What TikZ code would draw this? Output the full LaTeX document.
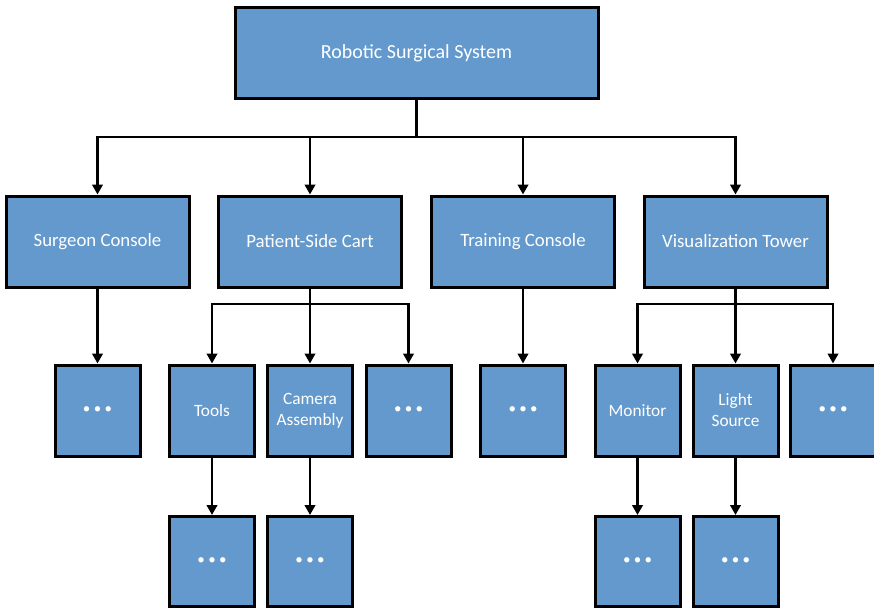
\documentclass[tikz,border=0pt]{standalone}
\usepackage{fontspec}
\setmainfont{Carlito}
\usetikzlibrary{arrows.meta}
\definecolor{boxblue}{RGB}{99,153,204}
\newcommand{\moredots}{•\hspace{0.22em}•\hspace{0.22em}•}
\begin{document}
\begin{tikzpicture}[x=1pt,y=-1pt,
  box/.style={draw=black,line width=3pt,fill=boxblue,text=white,inner sep=0pt,
    align=center,minimum height=91pt},
  bigbox/.style={box,minimum width=363pt,font=\fontsize{20}{24}\selectfont},
  midbox/.style={box,minimum width=183pt,font=\fontsize{18.8}{22}\selectfont},
  smallbox/.style={box,minimum width=85pt,font=\fontsize{17.3}{21}\selectfont},
  dotbox/.style={smallbox,font=\fontsize{15}{18}\selectfont},
  conn/.style={line width=2.7pt,line cap=rect},
  arr/.style={line width=2.7pt,-{Triangle[width=10.5pt,length=10pt]}}]
\useasboundingbox (0,0) rectangle (874,607);

% level 0
\node[bigbox] (root) at (416.5,53.5) {Robotic Surgical System};

% level 1
\node[midbox] (sc) at (97.5,241.5) {Surgeon Console};
\node[midbox] (pc) at (310,241.5) {Patient-Side Cart};
\node[midbox] (tc) at (523,241.5) {Training Console};
\node[midbox] (vt) at (735.5,241.5) {Visualization Tower};

% level 2
\node[dotbox]   (sc1) at (97.5,410.5) {\moredots};
\node[smallbox] (pc1) at (212,410.5) {Tools};
\node[smallbox] (pc2) at (310,410.5) {Camera\\Assembly};
\node[dotbox]   (pc3) at (408.5,410.5) {\moredots};
\node[dotbox]   (tc1) at (523,410.5) {\moredots};
\node[smallbox] (vt1) at (637.5,410.5) {Monitor};
\node[smallbox] (vt2) at (735.5,410.5) {Light\\Source};
\node[dotbox]   (vt3) at (833,410.5) {\moredots};

% level 3
\node[dotbox,minimum height=90pt] (pc1a) at (212,561.5) {\moredots};
\node[dotbox,minimum height=90pt] (pc2a) at (310,561.5) {\moredots};
\node[dotbox,minimum height=90pt] (vt1a) at (637.5,561.5) {\moredots};
\node[dotbox,minimum height=90pt] (vt2a) at (735.5,561.5) {\moredots};

% junctions
\coordinate (j0) at (416.5,137);
\coordinate (jp) at (310,304);
\coordinate (jv) at (735.5,304);

% root to level 1
\draw[conn] (root.south) -- (j0);
\draw[conn] (j0 -| sc) -- (j0 -| vt);
\foreach \n in {sc,pc,tc,vt}
  \draw[arr] (j0 -| \n) -- (\n.north);

% Surgeon Console and Training Console
\draw[arr] (sc.south) -- (sc1.north);
\draw[arr] (tc.south) -- (tc1.north);

% Patient-Side Cart branches
\draw[conn] (pc.south) -- (jp);
\draw[conn] (jp -| pc1) -- (jp -| pc3);
\foreach \n in {pc1,pc2,pc3}
  \draw[arr] (jp -| \n) -- (\n.north);

% Visualization Tower branches
\draw[conn] (vt.south) -- (jv);
\draw[conn] (jv -| vt1) -- (jv -| vt3);
\foreach \n in {vt1,vt2,vt3}
  \draw[arr] (jv -| \n) -- (\n.north);

% level 2 to level 3
\draw[arr] (pc1.south) -- (pc1a.north);
\draw[arr] (pc2.south) -- (pc2a.north);
\draw[arr] (vt1.south) -- (vt1a.north);
\draw[arr] (vt2.south) -- (vt2a.north);
\end{tikzpicture}
\end{document}
